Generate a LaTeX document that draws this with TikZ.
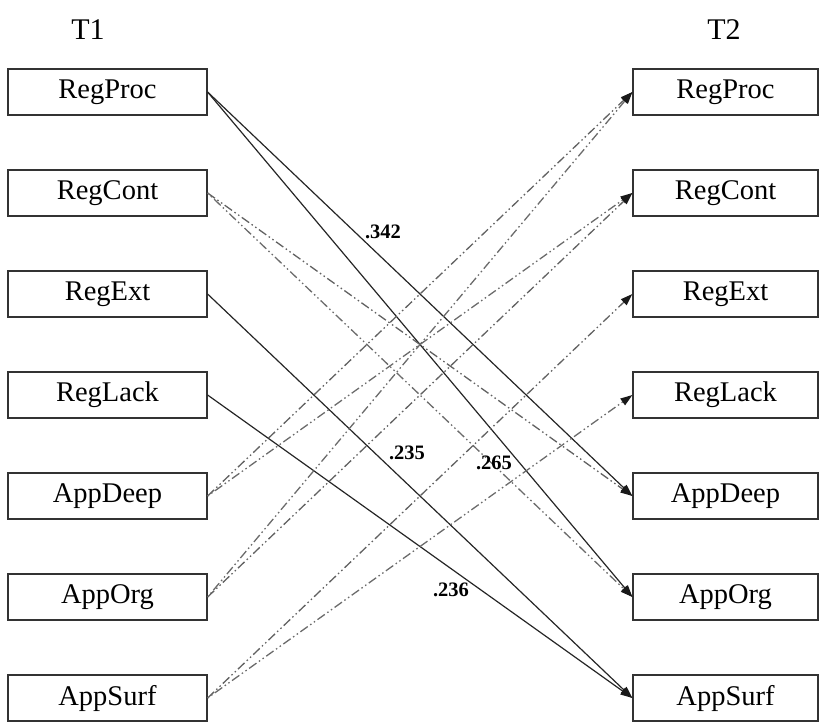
\documentclass[tikz,border=0pt]{standalone}
\usepackage{fontspec}
\setmainfont{Liberation Serif}
\usetikzlibrary{arrows.meta}
\begin{document}
\begin{tikzpicture}[x=1pt,y=-1pt,
  lbox/.style={draw=black!80,line width=1.2pt,minimum width=199pt,minimum height=46pt,inner sep=0pt,font=\fontsize{28.5}{30}\selectfont},
  rbox/.style={lbox,minimum width=185pt},
  hdr/.style={font=\fontsize{30}{32}\selectfont},
  coef/.style={font=\bfseries\fontsize{20.5}{22}\selectfont},
  tip/.style={-{Triangle[length=12pt,width=8pt,color=black!90,fill=black!90]}},
  sol/.style={draw=black!85,line width=1.2pt,tip},
  dda/.style={draw=black!62,line width=1.3pt,dash pattern=on 9pt off 3pt on 1.5pt off 3pt on 1.5pt off 3pt,tip},
  ddb/.style={draw=black!58,line width=1.3pt,dash pattern=on 1.5pt off 3pt on 1.5pt off 3pt on 9pt off 3pt,tip}]
\useasboundingbox (0,0) rectangle (824,721);
\node[hdr] (t1) at (88,30) {T1};
\node[hdr] (t2) at (724,30) {T2};
\node[lbox] (L1) at (107.5,92) {RegProc};
\node[lbox] (L2) at (107.5,193) {RegCont};
\node[lbox] (L3) at (107.5,294) {RegExt};
\node[lbox] (L4) at (107.5,395) {RegLack};
\node[lbox] (L5) at (107.5,496) {AppDeep};
\node[lbox] (L6) at (107.5,597) {AppOrg};
\node[lbox] (L7) at (107.5,698) {AppSurf};
\node[rbox] (R1) at (725.5,92) {RegProc};
\node[rbox] (R2) at (725.5,193) {RegCont};
\node[rbox] (R3) at (725.5,294) {RegExt};
\node[rbox] (R4) at (725.5,395) {RegLack};
\node[rbox] (R5) at (725.5,496) {AppDeep};
\node[rbox] (R6) at (725.5,597) {AppOrg};
\node[rbox] (R7) at (725.5,698) {AppSurf};
% solid paths
\draw[sol] (L1.east) -- (R5.west);
\draw[sol] (L1.east) -- (R6.west);
\draw[sol] (L3.east) -- (R7.west);
\draw[sol] (L4.east) -- (R7.west);
% dash-dot paths
\draw[dda] (L2.east) -- (R5.west);
\draw[ddb] (L2.east) -- (R6.west);
\draw[dda] (L5.east) -- (R1.west);
\draw[ddb] (L5.east) -- (R2.west);
\draw[ddb] (L6.east) -- (R1.west);
\draw[dda] (L6.east) -- (R2.west);
\draw[dda] (L7.east) -- (R3.west);
\draw[ddb] (L7.east) -- (R4.west);
% coefficients
\node[coef] (c1) at (383,232) {.342};
\node[coef] (c2) at (407,453) {.235};
\node[coef] (c3) at (494,463) {.265};
\node[coef] (c4) at (451,590) {.236};
\end{tikzpicture}
\end{document}
